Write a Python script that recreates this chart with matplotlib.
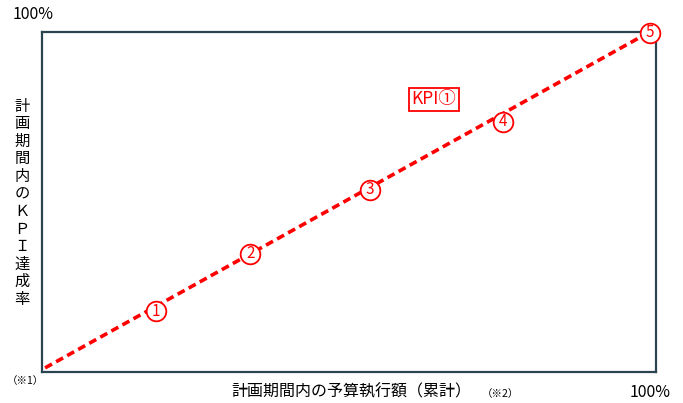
import matplotlib
matplotlib.use('Agg')
import matplotlib.pyplot as plt

plt.rcParams['font.family'] = ['Noto Sans CJK JP', 'DejaVu Sans']

# 予算執行率と KPI 達成率（0〜1）
line_x = [0.005, 0.99]
line_y = [0.012, 1.0]
point_x = [0.186, 0.339, 0.534, 0.751, 0.99]
point_y = [0.179, 0.347, 0.535, 0.735, 0.997]
point_labels = ['1', '2', '3', '4', '5']

y_label = '計画期間内のＫＰＩ達成率'
x_label = '計画期間内の予算執行額（累計）'

red = '#ff0000'
frame = '#2b4450'

fig = plt.figure(figsize=(6.83, 4.03), dpi=100)
ax = fig.add_axes([0.0615, 0.077, 0.899, 0.844])
ax.set_xlim(0, 1)
ax.set_ylim(0, 1)
ax.set_xticks([])
ax.set_yticks([])
for s in ax.spines.values():
    s.set_color(frame)
    s.set_linewidth(1.6)

ax.plot(line_x, line_y, color=red, linewidth=2.6, linestyle=(0, (2.2, 1.3)),
        clip_on=False, zorder=2)
ax.scatter(point_x, point_y, s=200, facecolor='white', edgecolor=red,
           linewidth=1.3, clip_on=False, zorder=3)
for x, y, t in zip(point_x, point_y, point_labels):
    ax.text(x, y, t, color=red, fontsize=11, ha='center', va='center',
            clip_on=False, zorder=4)

# KPI ラベル
ax.text(0.638, 0.802, 'KPI①', color=red, fontsize=12.5, ha='center', va='center',
        bbox=dict(boxstyle='square,pad=0.15', fc='white', ec=red, lw=1.3))

# 軸まわりの文字
fig.text(0.018, 0.963, '100%', fontsize=11.5, ha='left', va='center')
fig.text(0.952, 0.027, '100%', fontsize=11.5, ha='center', va='center')
fig.text(0.037, 0.055, '（※1）', fontsize=7.5, ha='center', va='center')
fig.text(0.515, 0.027, x_label, fontsize=11.5, ha='center', va='center')
fig.text(0.733, 0.022, '（※2）', fontsize=7.5, ha='center', va='center')
fig.text(0.032, 0.497, '\n'.join(y_label), fontsize=11, ha='center',
         va='center', linespacing=1.04)

fig.savefig('out.png', dpi=100)
